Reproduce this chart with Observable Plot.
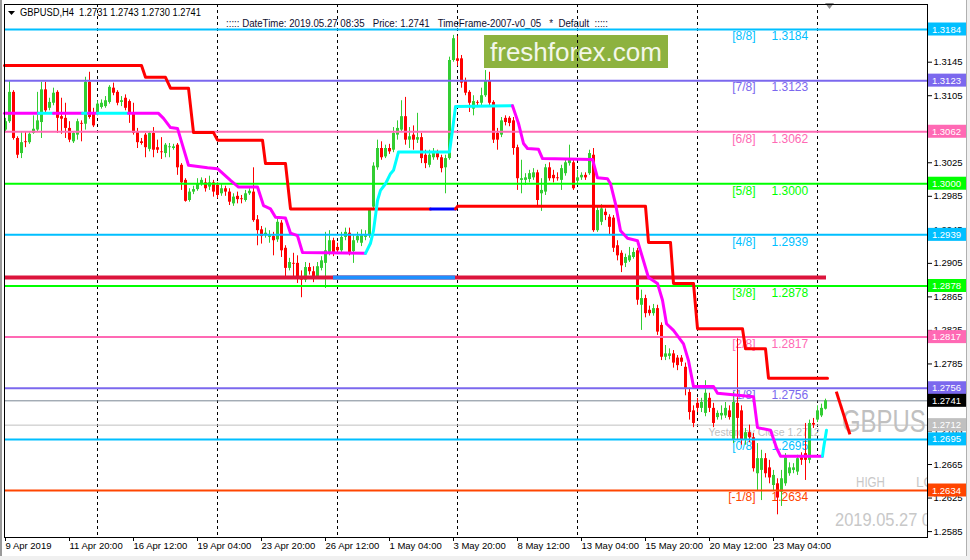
<!DOCTYPE html>
<html>
<head>
<meta charset="utf-8">
<script src="https://cdn.jsdelivr.net/npm/d3@7"></script>
<script src="https://cdn.jsdelivr.net/npm/@observablehq/plot@0.6"></script>
<style>
  html, body { margin:0; padding:0; background:#fff; }
  #wrap { position:relative; width:970px; height:560px; overflow:hidden; background:#fff; }
  #wrap > svg, #chart > svg { position:absolute; left:0; top:0; }
</style>
</head>
<body>
<div id="wrap">
<svg id="decor" width="970" height="560" font-family="'Liberation Sans', Arial, sans-serif">
  <defs><clipPath id="plotClip"><rect x="4" y="4" width="923" height="533"/></clipPath></defs>
  <rect x="0" y="0" width="2" height="560" fill="#9a9a9a"/>
  <rect x="966" y="0" width="4" height="560" fill="#f0f0f0"/>
  <rect x="966" y="0" width="1" height="560" fill="#b0b0b0"/>
  <rect x="0" y="556" width="970" height="4" fill="#f0f0f0"/>
  <polygon points="825,3 834,3 829.5,9" fill="#8c8c8c"/>
  <g clip-path="url(#plotClip)">
    <rect x="484" y="35" width="184" height="33" fill="#8DB23F"/>
    <text x="576" y="61" font-size="26" fill="#F3F7EA" text-anchor="middle">freshforex.com</text>
    <text x="842" y="432" font-size="32" fill="#C0C0C0" textLength="101" lengthAdjust="spacingAndGlyphs">GBPUSD</text>
    <text x="856" y="487" font-size="14" fill="#C8C8C8" textLength="29" lengthAdjust="spacingAndGlyphs">HIGH</text>
    <text x="916" y="487" font-size="14" fill="#C8C8C8" textLength="31" lengthAdjust="spacingAndGlyphs">LOW</text>
    <text x="835" y="526" font-size="19" fill="#C8C8C8" textLength="128" lengthAdjust="spacingAndGlyphs">2019.05.27 08:35</text>
    <polygon points="8,11 15,11 11.5,15" fill="#000"/>
    <text x="20" y="16" font-size="10" fill="#000" textLength="181" lengthAdjust="spacingAndGlyphs" xml:space="preserve">GBPUSD,H4  1.2731 1.2743 1.2730 1.2741</text>
    <text x="226" y="27" font-size="10" fill="#101030" textLength="382" lengthAdjust="spacingAndGlyphs" xml:space="preserve">::::: DateTime: 2019.05.27 08:35   Price: 1.2741   TimeFrame-2007-v0_05   *  Default  :::::</text>
  </g>
</svg>
<div id="chart"></div>
</div>
<script>
// ---------------- DATA ----------------
// H4 bars, bar 0 = 9 Apr 2019 04:00 ... bar 205 = 27 May 2019 08:00
const opens = [
1.3064,1.3074,1.3109,1.3054,1.3036,1.3050,1.3049,1.3060,1.3064,1.3073,
1.3112,1.3090,1.3096,1.3109,1.3080,1.3078,1.3066,1.3050,1.3058,1.3072,
1.3071,1.3121,1.3084,1.3084,1.3091,1.3092,1.3097,1.3114,1.3109,1.3097,
1.3102,1.3098,1.3085,1.3061,1.3050,1.3058,1.3041,1.3060,1.3043,1.3038,
1.3036,1.3043,1.3042,1.3046,1.3022,1.3004,1.2980,1.2990,1.2993,1.3000,
1.3001,1.2996,1.3001,1.2998,1.2988,1.2994,1.2990,1.2976,1.2985,1.2982,
1.2980,1.2988,1.2990,1.2957,1.2945,1.2938,1.2936,1.2937,1.2933,1.2953,
1.2923,1.2899,1.2905,1.2905,1.2888,1.2885,1.2900,1.2895,1.2888,1.2899,
1.2905,1.2918,1.2932,1.2924,1.2920,1.2936,1.2941,1.2919,1.2932,1.2929,
1.2936,1.2938,1.2972,1.3019,1.3042,1.3032,1.3042,1.3040,1.3058,1.3064,
1.3080,1.3052,1.3058,1.3052,1.3055,1.3034,1.3022,1.3031,1.3036,1.3031,
1.3019,1.3030,1.3147,1.3149,1.3149,1.3123,1.3109,1.3089,1.3097,1.3096,
1.3105,1.3123,1.3097,1.3060,1.3058,1.3078,1.3078,1.3075,1.3043,1.3004,
1.3004,1.3005,1.3007,1.3013,1.2988,1.2990,1.3019,1.3010,1.3007,1.3004,
1.3012,1.3024,1.3025,1.3003,1.3007,1.3010,1.3012,1.3034,1.2944,1.2954,
1.2966,1.2960,1.2959,1.2926,1.2917,1.2905,1.2908,1.2912,1.2920,1.2855,
1.2863,1.2849,1.2845,1.2851,1.2831,1.2793,1.2794,1.2797,1.2792,1.2792,
1.2781,1.2751,1.2729,1.2738,1.2732,1.2726,1.2744,1.2732,1.2721,1.2723,
1.2723,1.2729,1.2694,1.2738,1.2729,1.2694,1.2703,1.2697,1.2654,1.2658,
1.2672,1.2661,1.2640,1.2642,1.2632,1.2642,1.2654,1.2658,1.2656,1.2673,
1.2678,1.2670,1.2714,1.2718,1.2723,1.2731];
const highs = [
1.3078,1.3122,1.3111,1.3056,1.3061,1.3061,1.3061,1.3081,1.3109,1.3121,
1.3121,1.3102,1.3114,1.3111,1.3102,1.3096,1.3074,1.3062,1.3077,1.3075,
1.3127,1.3133,1.3090,1.3099,1.3100,1.3104,1.3117,1.3120,1.3111,1.3104,
1.3106,1.3100,1.3096,1.3066,1.3054,1.3060,1.3061,1.3067,1.3052,1.3055,
1.3048,1.3048,1.3047,1.3048,1.3024,1.3006,1.2994,1.2997,1.3006,1.3007,
1.3006,1.3009,1.3004,1.3001,1.2999,1.2997,1.2994,1.2988,1.2990,1.2986,
1.2992,1.2994,1.3019,1.2962,1.2949,1.2947,1.2944,1.2942,1.2959,1.2956,
1.2926,1.2911,1.2917,1.2914,1.2896,1.2906,1.2905,1.2901,1.2906,1.2913,
1.2942,1.2944,1.2935,1.2929,1.2942,1.2947,1.2947,1.2938,1.2942,1.2945,
1.2944,1.2970,1.3025,1.3052,1.3050,1.3046,1.3047,1.3067,1.3075,1.3099,
1.3103,1.3067,1.3069,1.3084,1.3060,1.3040,1.3040,1.3042,1.3040,1.3034,
1.3034,1.3151,1.3177,1.3176,1.3153,1.3126,1.3111,1.3105,1.3099,1.3114,
1.3135,1.3133,1.3099,1.3066,1.3079,1.3081,1.3080,1.3079,1.3046,1.3028,
1.3012,1.3016,1.3018,1.3016,1.3006,1.3023,1.3025,1.3016,1.3013,1.3022,
1.3030,1.3046,1.3028,1.3016,1.3013,1.3013,1.3040,1.3042,1.2974,1.2975,
1.2970,1.2963,1.2962,1.2932,1.2920,1.2916,1.2924,1.2923,1.2923,1.2873,
1.2867,1.2854,1.2856,1.2855,1.2834,1.2807,1.2803,1.2801,1.2795,1.2795,
1.2786,1.2756,1.2735,1.2744,1.2744,1.2765,1.2750,1.2738,1.2729,1.2735,
1.2739,1.2735,1.2751,1.2815,1.2735,1.2708,1.2712,1.2702,1.2690,1.2682,
1.2678,1.2670,1.2658,1.2648,1.2658,1.2678,1.2667,1.2666,1.2676,1.2679,
1.2714,1.2718,1.2720,1.2735,1.2737,1.2743];
const lows = [
1.3061,1.3072,1.3052,1.3030,1.3030,1.3043,1.3047,1.3059,1.3062,1.3054,
1.3085,1.3087,1.3093,1.3060,1.3059,1.3054,1.3049,1.3048,1.3052,1.3050,
1.3064,1.3077,1.3067,1.3081,1.3089,1.3090,1.3095,1.3105,1.3093,1.3092,
1.3087,1.3072,1.3058,1.3042,1.3046,1.3031,1.3038,1.3031,1.3036,1.3029,
1.3031,1.3031,1.3040,1.3010,1.2992,1.2978,1.2978,1.2987,1.2991,1.2997,
1.2990,1.2992,1.2984,1.2982,1.2985,1.2985,1.2974,1.2973,1.2976,1.2976,
1.2978,1.2986,1.2954,1.2926,1.2928,1.2935,1.2929,1.2914,1.2930,1.2912,
1.2888,1.2896,1.2888,1.2881,1.2864,1.2882,1.2891,1.2882,1.2886,1.2896,
1.2875,1.2914,1.2913,1.2916,1.2918,1.2932,1.2914,1.2905,1.2929,1.2925,
1.2932,1.2935,1.2968,1.3016,1.3028,1.3030,1.3035,1.3037,1.3052,1.3061,
1.3046,1.3042,1.3040,1.3048,1.3024,1.3018,1.3019,1.3028,1.3028,1.3013,
1.2988,1.3028,1.3145,1.3140,1.3114,1.3105,1.3085,1.3081,1.3092,1.3092,
1.3103,1.3093,1.3048,1.3040,1.3055,1.3069,1.3068,1.3034,1.2992,1.2988,
1.2998,1.3001,1.3004,1.2974,1.2967,1.2986,1.3003,1.3001,1.3003,1.2992,
1.3009,1.3021,1.2992,1.2998,1.3004,1.3004,1.3010,1.2942,1.2942,1.2950,
1.2956,1.2938,1.2918,1.2908,1.2894,1.2900,1.2906,1.2910,1.2855,1.2825,
1.2840,1.2842,1.2842,1.2819,1.2789,1.2789,1.2790,1.2780,1.2777,1.2782,
1.2747,1.2718,1.2709,1.2727,1.2727,1.2722,1.2727,1.2709,1.2718,1.2718,
1.2720,1.2718,1.2690,1.2694,1.2688,1.2688,1.2691,1.2656,1.2634,1.2622,
1.2649,1.2642,1.2634,1.2605,1.2615,1.2639,1.2651,1.2654,1.2652,1.2664,
1.2646,1.2666,1.2708,1.2715,1.2721,1.2730];
const closes = [
1.3074,1.3109,1.3054,1.3034,1.3049,1.3049,1.3059,1.3065,1.3075,1.3112,
1.3087,1.3097,1.3108,1.3078,1.3077,1.3066,1.3052,1.3060,1.3074,1.3071,
1.3121,1.3079,1.3069,1.3095,1.3096,1.3099,1.3115,1.3108,1.3096,1.3099,
1.3090,1.3084,1.3060,1.3049,1.3048,1.3043,1.3060,1.3040,1.3040,1.3037,
1.3046,1.3044,1.3044,1.3019,1.3001,1.2979,1.2990,1.2993,1.3000,1.3004,
1.2994,1.3001,1.2990,1.2986,1.2994,1.2990,1.2978,1.2984,1.2981,1.2981,
1.2988,1.2991,1.2956,1.2944,1.2937,1.2941,1.2938,1.2932,1.2954,1.2920,
1.2899,1.2906,1.2904,1.2888,1.2885,1.2900,1.2895,1.2888,1.2901,1.2908,
1.2920,1.2932,1.2918,1.2920,1.2936,1.2942,1.2918,1.2932,1.2937,1.2938,
1.2938,1.2968,1.3021,1.3042,1.3031,1.3042,1.3038,1.3060,1.3066,1.3080,
1.3052,1.3056,1.3052,1.3055,1.3030,1.3024,1.3034,1.3036,1.3031,1.3018,
1.3030,1.3147,1.3173,1.3146,1.3120,1.3108,1.3096,1.3098,1.3096,1.3105,
1.3123,1.3096,1.3052,1.3052,1.3075,1.3073,1.3072,1.3042,1.3006,1.3006,
1.3007,1.3012,1.3013,1.2980,1.2992,1.3019,1.3006,1.3006,1.3006,1.3018,
1.3025,1.3028,1.2994,1.3007,1.3010,1.3007,1.3036,1.2944,1.2968,1.2970,
1.2962,1.2948,1.2923,1.2914,1.2902,1.2912,1.2914,1.2918,1.2861,1.2863,
1.2845,1.2845,1.2851,1.2823,1.2793,1.2797,1.2797,1.2786,1.2783,1.2787,
1.2756,1.2727,1.2714,1.2732,1.2739,1.2750,1.2732,1.2714,1.2726,1.2726,
1.2732,1.2721,1.2739,1.2720,1.2694,1.2703,1.2697,1.2660,1.2672,1.2672,
1.2654,1.2649,1.2652,1.2625,1.2648,1.2673,1.2661,1.2661,1.2672,1.2670,
1.2670,1.2714,1.2712,1.2729,1.2732,1.2741];

// Murrey Math levels
const mmLabels = ["[8/8]","[7/8]","[6/8]","[5/8]","[4/8]","[3/8]","[2/8]","[1/8]","[0/8]","[-1/8]"];
const mmLevels = [1.3184,1.3123,1.3062,1.3000,1.2939,1.2878,1.2817,1.2756,1.2695,1.2634];
const currentPrice = 1.2741;
const yesterdayClose = 1.2712;

// Trailing line below/above price (bar index, price), with trend changes
const supportBars = [-0.25,8.25,12,19.25,20.75,23,30.75,38.25,39.5,41.25,43,44.25,45.75,50.5,53,56.25,58.25,63,64.5,66.25,67.5,70,71.25,73,74.25,90,91.25,92,93,93.75,95,96.25,97,98.25,111,111.75,112.5,126.75,128.25,129.5,130.5,133.25,134.25,146.75,148,150.5,151.25,152.5,153.75,155.5,158,159.25,160.75,163,164.25,165.25,167,169.5,170.75,172,177,178,187,188,191.25,192.75,193.75,204.25,204.5,205.25];
const supportLevels = [1.3084,1.3084,1.3084,1.3084,1.3084,1.3084,1.3084,1.3084,1.3078,1.3067,1.3066,1.3046,1.3022,1.3019,1.3018,1.3004,1.2996,1.2996,1.2974,1.2970,1.2960,1.2959,1.2941,1.2938,1.2918,1.2917,1.2929,1.2944,1.2980,1.2992,1.3000,1.3012,1.3016,1.3038,1.3038,1.3064,1.3092,1.3093,1.3072,1.3048,1.3042,1.3041,1.3030,1.3029,1.3007,1.3006,1.3000,1.2976,1.2944,1.2935,1.2932,1.2912,1.2888,1.2881,1.2861,1.2833,1.2825,1.2809,1.2789,1.2758,1.2758,1.2750,1.2746,1.2709,1.2706,1.2685,1.2675,1.2675,1.2684,1.2706];
const supportChanges = [[-0.25,"down"],[8.25,"up"],[12,"down"],[19.25,"up"],[20.75,"down"],[23,"up"],[30.75,"down"],[90,"up"],[126.75,"down"],[204.25,"up"]];

const resistanceBars = [-0.25,34,35,40,41.25,45.75,47,52,53,64.25,65,70,71.25,106.25,112.5,113,160,160.75,166.25,167,172,173,184.25,185,190,190.75,205.5];
const resistanceLevels = [1.3141,1.3141,1.3127,1.3127,1.3114,1.3114,1.3061,1.3061,1.3052,1.3052,1.3024,1.3024,1.2970,1.2970,1.2970,1.2973,1.2973,1.2930,1.2930,1.2881,1.2881,1.2827,1.2827,1.2803,1.2803,1.2768,1.2768];
const resistanceChanges = [[-0.25,"down"],[106.25,"flip"],[112.5,"down"]];

const pivotLevel = 1.2888;
const pivotSpan = [-0.25, 205.25];
const pivotFlipSpan = [82, 112.5];

const forecastLine = [[207.7, 1.2752], [211.1, 1.2701]];

const separatorBars = [23, 53, 83, 113, 143, 173, 203];
const xTickBars = [0,16,32,48,64,80,96,112,128,144,160,176,192];
const xTickLabels = ["9 Apr 2019","11 Apr 20:00","16 Apr 12:00","19 Apr 04:00","23 Apr 20:00","26 Apr 12:00","1 May 04:00","3 May 20:00","8 May 12:00","13 May 04:00","15 May 20:00","20 May 12:00","23 May 04:00"];
const yTickValues = [1.3145,1.3105,1.3065,1.3025,1.2985,1.2945,1.2905,1.2865,1.2825,1.2785,1.2745,1.2705,1.2665,1.2625,1.2585];

// ---------------- STYLE ----------------
const UP = "#32CD32", DOWN = "#FF0000";
const mmColors = ["#00BFFF","#7B68EE","#FF69B4","#00FF00","#00BFFF","#00FF00","#FF69B4","#7B68EE","#00BFFF","#FF4500"];
const supportColor = {down: "#FF00FF", up: "#00FFFF"};
const resistanceColor = {down: "#FF0000", flip: "#0000FF"};
const FONT = "'Liberation Sans', Arial, sans-serif";

// ---------------- BUILD ----------------
const bars = d3.range(closes.length).map(i => ({i, o: opens[i], h: highs[i], l: lows[i], c: closes[i]}));
const mmRows = mmLevels.map((v, k) => ({v, label: mmLabels[k], color: mmColors[k]}));
const boxRows = [...mmRows.map(d => ({v: d.v, fill: d.color})), {v: currentPrice, fill: "#000"}, {v: yesterdayClose, fill: "#C0C0C0"}];

function segments(bx, lv, changes) {
  const stateAt = b => { let s = changes[0][1]; for (const [cb, cs] of changes) if (b >= cb) s = cs; return s; };
  const rows = []; let seg = -1, prev = null;
  for (let k = 0; k < bx.length - 1; k++) {
    const s = stateAt(bx[k]);
    if (s !== prev) { seg++; prev = s; rows.push({x: bx[k], y: lv[k], seg, s}); }
    rows.push({x: bx[k + 1], y: lv[k + 1], seg, s});
  }
  return rows;
}
const supportRows = segments(supportBars, supportLevels, supportChanges);
const resistanceRows = segments(resistanceBars, resistanceLevels, resistanceChanges);

const PX = 1 / 8382; // price per pixel (for label box half-height)

const chart = Plot.plot({
  width: 970, height: 560,
  marginLeft: 4, marginRight: 43, marginTop: 4, marginBottom: 23,
  x: {domain: [-0.25, 230.5], axis: null},
  y: {domain: [1.257794, 1.321383], axis: null},
  color: {type: "identity"},
  style: {fontFamily: FONT, fontSize: "10px", background: "transparent", overflow: "visible", color: "#000"},
  marks: [
    Plot.ruleX(separatorBars, {stroke: "#000", strokeDasharray: "3,3", strokeWidth: 1}),
    Plot.text(mmRows, {x: 187.5, y: "v", text: "label", dy: 7, fill: "color", textAnchor: "end", fontSize: 12}),
    Plot.text(mmRows, {x: 191.5, y: "v", text: d => d.v.toFixed(4), dy: 7, fill: "color", textAnchor: "start", fontSize: 12}),
    Plot.text([yesterdayClose], {x: 175.75, y: d => d, text: d => "Yesterday Close " + d.toFixed(4), dy: 7, fill: "#C0C0C0", textAnchor: "start", fontSize: 10.5}),
    Plot.ruleY([currentPrice], {stroke: "#7a8694", strokeWidth: 1}),
    Plot.ruleY([yesterdayClose], {stroke: "#C0C0C0", strokeWidth: 1}),
    Plot.ruleX(bars, {x: "i", y1: "l", y2: "h", stroke: d => d.c >= d.o ? UP : DOWN, strokeWidth: 1}),
    Plot.ruleX(bars, {x: "i", y1: "o", y2: "c", stroke: d => d.c >= d.o ? UP : DOWN, strokeWidth: 3}),
    Plot.ruleY(mmRows, {y: "v", stroke: "color", strokeWidth: 2}),
    Plot.ruleY([pivotLevel], {x1: pivotSpan[0], x2: pivotSpan[1], stroke: "#DC143C", strokeWidth: 4}),
    Plot.ruleY([pivotLevel], {x1: pivotFlipSpan[0], x2: pivotFlipSpan[1], stroke: "#1E90FF", strokeWidth: 4}),
    Plot.line(resistanceRows, {x: "x", y: "y", z: "seg", stroke: d => resistanceColor[d.s], strokeWidth: 3, strokeLinejoin: "round"}),
    Plot.line(supportRows, {x: "x", y: "y", z: "seg", stroke: d => supportColor[d.s], strokeWidth: 3, strokeLinejoin: "round"}),
    Plot.link([forecastLine], {x1: d => d[0][0], y1: d => d[0][1], x2: d => d[1][0], y2: d => d[1][1], stroke: "#FF0000", strokeWidth: 3}),
    Plot.frame({stroke: "#000"}),
    Plot.axisY(yTickValues, {anchor: "right", tickSize: 4, tickPadding: 2, tickFormat: d => d.toFixed(4), label: null, fontSize: 9.5, textAnchor: "start"}),
    Plot.axisX(xTickBars, {anchor: "bottom", tickSize: 4, tickPadding: 1, tickFormat: d => xTickLabels[xTickBars.indexOf(d)], label: null, fontSize: 9.5, textAnchor: "start"}),
    Plot.rect(boxRows, {x1: 230.75, x2: 240.25, y1: d => d.v - 6.5 * PX, y2: d => d.v + 6.5 * PX, fill: "fill"}),
    Plot.text(boxRows, {x: 231.6, y: "v", text: d => d.v.toFixed(4), fill: "#fff", textAnchor: "start", fontSize: 9.5})
  ]
});
document.getElementById("chart").appendChild(chart);
</script>
</body>
</html>
